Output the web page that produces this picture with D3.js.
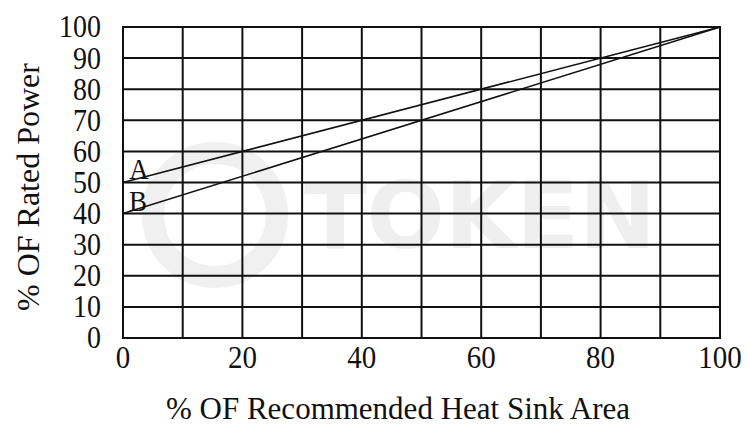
<!DOCTYPE html>
<html><head><meta charset="utf-8">
<script src="https://cdn.jsdelivr.net/npm/d3@7"></script>
<style>body{margin:0;background:#fff}svg{display:block}</style>
</head><body>
<svg id="c" width="747" height="425"></svg>
<script>
const xTicks=[0,20,40,60,80,100];
const xGrid=[0,10,20,30,40,50,60,70,80,90,100];
const yTicks=[0,10,20,30,40,50,60,70,80,90,100];
const seriesNames=["A","B"];
const seriesX=[0,100];
const seriesA=[50,100];
const seriesB=[40,100];

const svg=d3.select("#c");
const x=d3.scaleLinear().domain([0,100]).range([123,720]);
const y=d3.scaleLinear().domain([0,100]).range([338,27]);
const font="'Liberation Serif','Times New Roman',serif";

// watermark
svg.append("text").attr("x",480).attr("y",248).attr("text-anchor","middle")
  .attr("font-family","'DejaVu Sans',sans-serif").attr("font-weight","bold")
  .attr("font-size",92).attr("fill","#efefef").text("TOKEN");
svg.append("circle").attr("cx",215).attr("cy",215).attr("r",62)
  .attr("fill","none").attr("stroke","#f0f0f0").attr("stroke-width",22);

const g=svg.append("g");
g.selectAll("line.v").data(xGrid).join("line").attr("class","v")
  .attr("x1",d=>x(d)).attr("x2",d=>x(d)).attr("y1",y(0)).attr("y2",y(100))
  .attr("stroke","#111").attr("stroke-width",2);
g.selectAll("line.h").data(yTicks).join("line").attr("class","h")
  .attr("y1",d=>y(d)).attr("y2",d=>y(d)).attr("x1",x(0)-1).attr("x2",x(100)+1)
  .attr("stroke","#111").attr("stroke-width",2);

const line=d3.line().x((d,i)=>x(seriesX[i])).y(d=>y(d));
[seriesA,seriesB].forEach(s=>{
  g.append("path").attr("d",line(s)).attr("fill","none").attr("stroke","#111").attr("stroke-width",1.6);
});

function label(tx,ty,txt,anchor,fs){
  svg.append("text").attr("transform",`translate(${tx},${ty}) scale(1,1.1)`)
    .attr("text-anchor",anchor).attr("dominant-baseline","central")
    .attr("font-family",font).attr("font-size",fs).attr("fill","#111").text(txt);
}
yTicks.forEach(v=>label(101,y(v),v,"end",28));
xTicks.forEach(v=>label(x(v),358,v,"middle",29));
label(x(seriesX[0])+16,y(seriesA[0])-13,seriesNames[0],"middle",27);
label(x(seriesX[0])+15,y(seriesB[0])-13,seriesNames[1],"middle",27);

svg.append("text").attr("x",398).attr("y",419)
  .attr("text-anchor","middle")
  .attr("font-family",font).attr("font-size",31).attr("fill","#111")
  .text("% OF Recommended Heat Sink Area");
svg.append("text").attr("transform","translate(39,187) rotate(-90)")
  .attr("text-anchor","middle")
  .attr("font-family",font).attr("font-size",32).attr("fill","#111")
  .text("% OF Rated Power");
</script>
</body></html>
